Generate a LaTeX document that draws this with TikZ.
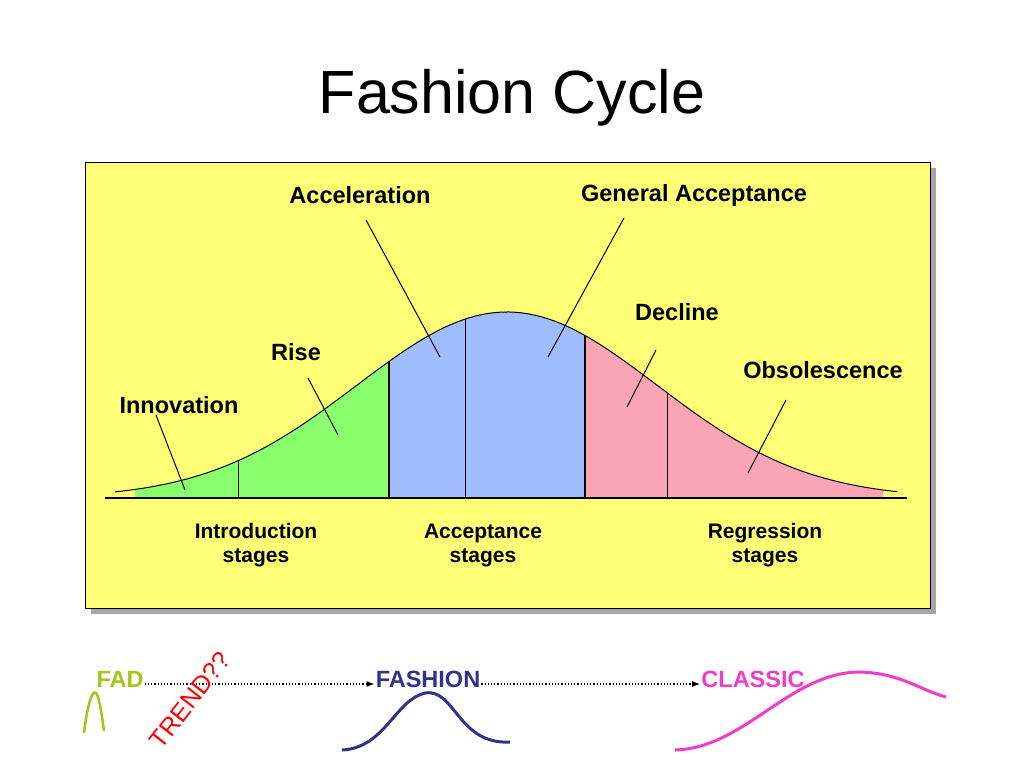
\documentclass[tikz,border=0pt]{standalone}
\usepackage{fontspec}
\setmainfont{Liberation Sans}
\usetikzlibrary{arrows.meta}
\definecolor{panelyellow}{RGB}{255,255,119}
\definecolor{risegreen}{RGB}{138,255,110}
\definecolor{accblue}{RGB}{160,190,255}
\definecolor{decpink}{RGB}{250,165,180}
\definecolor{fadgreen}{RGB}{160,200,20}
\definecolor{fashblue}{RGB}{50,50,140}
\definecolor{classicpink}{RGB}{240,60,200}
\tikzset{
  stagelabel/.style={font=\bfseries\fontsize{23.5}{25}\selectfont},
  stagetext/.style={font=\bfseries\fontsize{21}{24}\selectfont, align=center},
  pointer/.style={line width=1pt},
  cyclearrow/.style={dotted, line width=1.2pt, -{Latex[length=8pt]}},
  shapecurve/.style={line width=3pt}
}
\newcommand{\bell}{{498-186*exp(-((\x-507)/150)^2/2)}}
\begin{document}
\begin{tikzpicture}[x=1pt,y=1pt,yscale=-1]
\useasboundingbox (0,0) rectangle (1024,768);
% title
\node[font=\fontsize{61}{63}\selectfont] (title) at (512,98) {Fashion Cycle};
% panel
\fill[gray!70] (91,168) rectangle (936,614);
\draw[fill=panelyellow, line width=0.6pt] (85,162) rectangle (930,608);
% stage fills
\fill[risegreen] (135,498) -- plot[domain=135:389, samples=60] (\x,\bell) -- (389,498) -- cycle;
\fill[accblue] (389,498) -- plot[domain=389:585, samples=60] (\x,\bell) -- (585,498) -- cycle;
\fill[decpink] (585,498) -- plot[domain=585:883, samples=60] (\x,\bell) -- (883,498) -- cycle;
\draw[line width=1pt] plot[domain=115:897, samples=120] (\x,\bell);
\draw[line width=1.2pt] (105,498) -- (907,498);
% dividers
\foreach \xx/\w in {238/0.8pt, 389/1.6pt, 465/0.8pt, 585/1.6pt, 667/0.8pt}
  \draw[line width=\w] (\xx,498) -- plot[domain=\xx:\xx, samples=2] (\x,\bell);
% labels
\node[stagelabel] (accel) at (360,195) {Acceleration};
\node[stagelabel] (general) at (694,195) {General Acceptance};
\node[stagelabel] (decline) at (677,312) {Decline};
\node[stagelabel] (rise) at (296,352) {Rise};
\node[stagelabel] (obsol) at (823,370) {Obsolescence};
\node[stagelabel] (innov) at (179,405) {Innovation};
\coordinate (accelpt) at (440,357);
\coordinate (generalpt) at (548,357);
\coordinate (declinept) at (627,407);
\coordinate (risept) at (338,435);
\coordinate (obsolpt) at (748,473);
\coordinate (innovpt) at (185,490);
\draw[pointer] (366,220) -- (accelpt);
\draw[pointer] (624,218) -- (generalpt);
\draw[pointer] (656,350) -- (declinept);
\draw[pointer] (308,378) -- (risept);
\draw[pointer] (156,415) -- (innovpt);
\draw[pointer] (786,400) -- (obsolpt);
\node[stagetext] (intro) at (256,545) {Introduction\\stages};
\node[stagetext] (accept) at (483,545) {Acceptance\\stages};
\node[stagetext] (regress) at (765,545) {Regression\\stages};
% cycle row
\node[stagelabel, text=fadgreen, inner sep=1pt] (fad) at (120,679) {FAD};
\node[stagelabel, text=fashblue, inner sep=1pt] (fashion) at (428,679) {FASHION};
\node[stagelabel, text=classicpink, inner sep=1pt] (classic) at (753,679) {CLASSIC};
\draw[cyclearrow] (fad.east) ++(0,5) -- ([yshift=5pt]fashion.west);
\draw[cyclearrow] (fashion.east) ++(0,5) -- ([yshift=5pt]classic.west);
\node[font=\fontsize{25}{27}\selectfont, text=red, rotate=52] (trend) at (190,700) {TREND??};
% shapes of the cycles
\draw[shapecurve, fadgreen, line width=2.5pt] (84,733) .. controls (88,700) and (93,690) .. (96,693) .. controls (99,696) and (102,715) .. (104,731);
\draw[shapecurve, fashblue] (342,750) .. controls (385,748) and (395,700) .. (425,693) .. controls (455,688) and (458,745) .. (510,742);
\draw[shapecurve, classicpink] (675,750) .. controls (745,748) and (790,672) .. (860,672) .. controls (900,673) and (920,690) .. (946,697);
\end{tikzpicture}
\end{document}
